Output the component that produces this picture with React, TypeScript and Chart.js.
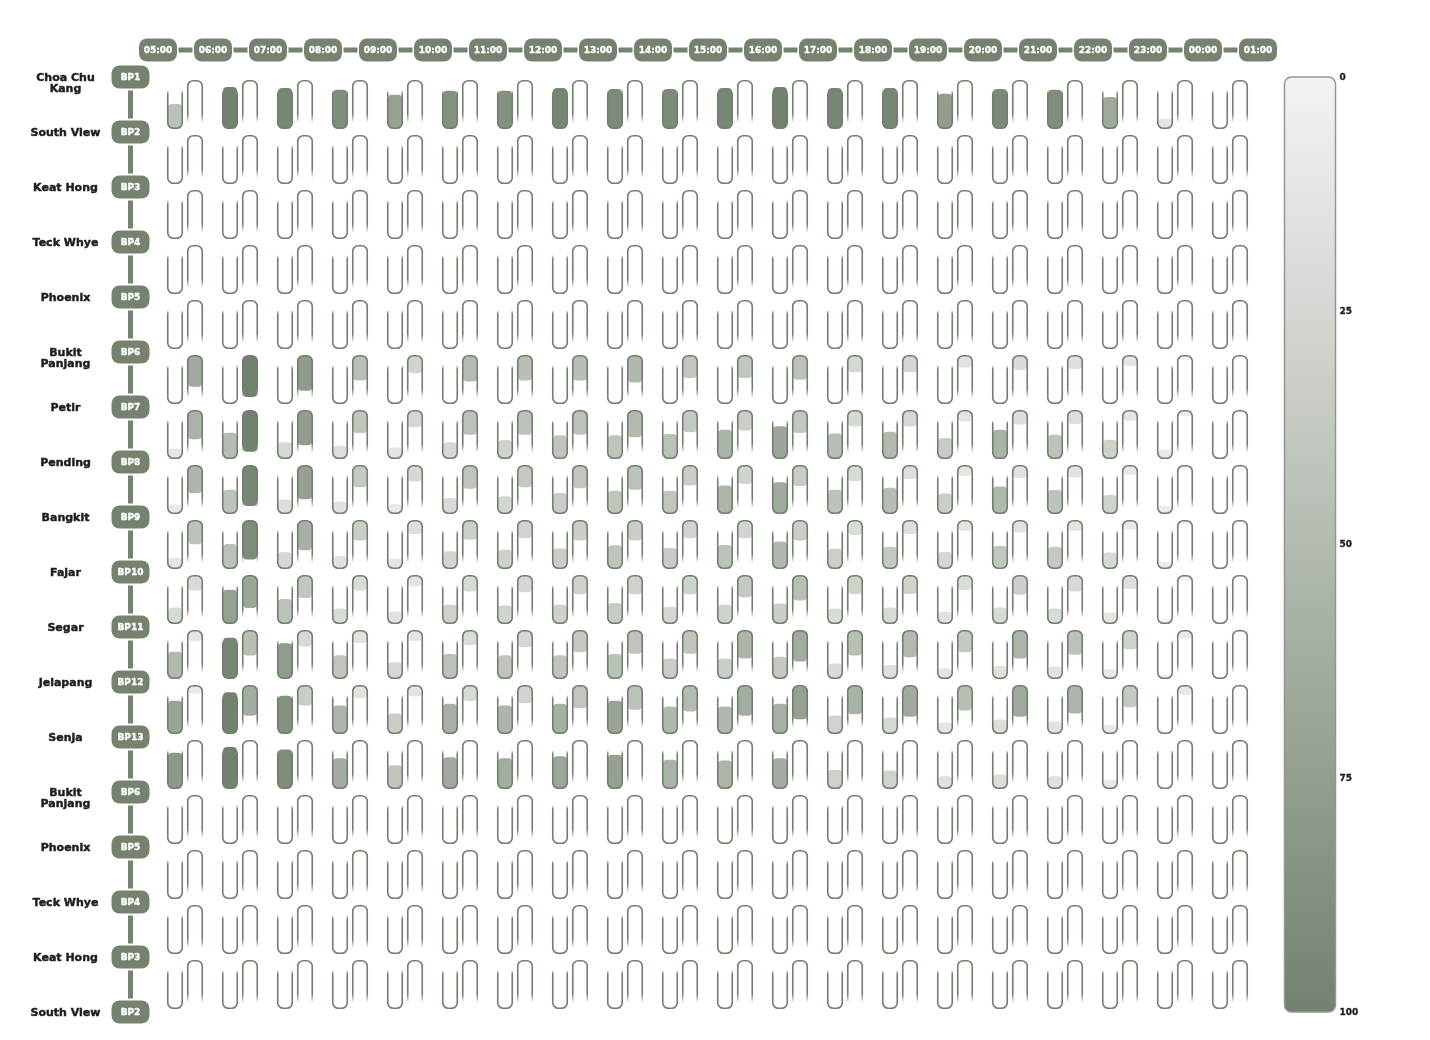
import React, { useEffect, useRef } from 'react';
import { Chart, registerables } from 'chart.js';

Chart.register(...registerables);

// ---------- categories & labels ----------
const hours = ['05:00', '06:00', '07:00', '08:00', '09:00', '10:00', '11:00', '12:00', '13:00', '14:00', '15:00', '16:00', '17:00', '18:00', '19:00', '20:00', '21:00', '22:00', '23:00', '00:00', '01:00'];
const stationNames = ['Choa Chu Kang', 'South View', 'Keat Hong', 'Teck Whye', 'Phoenix', 'Bukit Panjang', 'Petir', 'Pending', 'Bangkit', 'Fajar', 'Segar', 'Jelapang', 'Senja', 'Bukit Panjang', 'Phoenix', 'Teck Whye', 'Keat Hong', 'South View'];
const stationCodes = ['BP1', 'BP2', 'BP3', 'BP4', 'BP5', 'BP6', 'BP7', 'BP8', 'BP9', 'BP10', 'BP11', 'BP12', 'BP13', 'BP6', 'BP5', 'BP4', 'BP3', 'BP2'];
const colorTicks = [0, 25, 50, 75, 100];

// ---------- values (0-100): one entry per hour interval, one row per segment ----------
const empty = [0, 0, 0, 0, 0, 0, 0, 0, 0, 0, 0, 0, 0, 0, 0, 0, 0, 0, 0, 0];

// left tubes (filled from the bottom)
const aChoaChuKang = [45, 100, 96, 90, 73, 87, 87, 96, 93, 93, 96, 100, 96, 96, 76, 93, 90, 66, 11, 0];
const aPetir = [11, 48, 24, 17, 13, 24, 29, 41, 41, 45, 57, 68, 46, 51, 34, 57, 43, 30, 9, 0];
const aPending = [9, 43, 19, 15, 10, 22, 26, 34, 40, 40, 55, 65, 43, 48, 33, 52, 42, 29, 7, 0];
const aBangkit = [12, 45, 24, 16, 11, 26, 30, 33, 41, 34, 42, 52, 32, 37, 25, 39, 37, 23, 6, 0];
const aFajar = [23, 73, 45, 21, 15, 30, 28, 30, 34, 25, 30, 33, 21, 23, 15, 23, 21, 13, 3, 0];
const aSegar = [51, 97, 78, 41, 24, 45, 41, 41, 45, 33, 33, 37, 21, 18, 12, 16, 15, 10, 2, 0];
const aJelapang = [70, 99, 87, 55, 33, 60, 55, 60, 70, 52, 52, 60, 28, 23, 13, 19, 15, 9, 0, 0];
const aSenja = [80, 100, 91, 62, 41, 65, 62, 68, 73, 57, 55, 62, 30, 28, 16, 19, 16, 9, 0, 0];

// right tubes (filled from the top)
const bBukitPanjang = [65, 100, 78, 46, 27, 49, 46, 46, 52, 39, 39, 44, 25, 25, 15, 20, 18, 12, 3, 0];
const bPetir = [57, 99, 76, 40, 25, 44, 44, 44, 51, 37, 33, 39, 23, 23, 13, 19, 18, 12, 5, 0];
const bPending = [54, 96, 73, 37, 23, 41, 37, 40, 44, 33, 29, 34, 22, 18, 12, 16, 15, 10, 2, 0];
const bBangkit = [43, 91, 60, 33, 18, 31, 27, 33, 33, 27, 27, 33, 20, 18, 12, 15, 12, 10, 2, 0];
const bFajar = [21, 69, 39, 21, 13, 23, 25, 30, 30, 30, 37, 46, 29, 29, 20, 31, 23, 18, 3, 0];
const bSegar = [12, 46, 23, 16, 12, 20, 25, 37, 41, 41, 55, 64, 46, 51, 37, 55, 44, 30, 8, 0];
const bJelapang = [8, 62, 33, 16, 13, 22, 27, 40, 44, 49, 62, 73, 57, 65, 46, 65, 55, 37, 10, 0];

const dirARows = [aChoaChuKang, empty, empty, empty, empty, empty, aPetir, aPending, aBangkit, aFajar, aSegar, aJelapang, aSenja, empty, empty, empty, empty];
const dirBRows = [empty, empty, empty, empty, empty, bBukitPanjang, bPetir, bPending, bBangkit, bFajar, bSegar, bJelapang, empty, empty, empty, empty, empty];

// ---------- style ----------
const LIGHT = [243, 244, 242];
const DARK = [115, 130, 112];
const PILL = '#75826f';
const LINE = [112, 126, 109];
const FONT = '"DejaVu Sans", Verdana, sans-serif';

function shade(v: number): string {
  const t = Math.max(0, Math.min(1, v / 100));
  const c = LIGHT.map((l, k) => Math.round(l + (DARK[k] - l) * t));
  return `rgb(${c[0]},${c[1]},${c[2]})`;
}

// geometry expressed in cell units (one row / one column = 1)
const CELL = 55;
const TUBE_LEN = 41 / CELL;
const A_X = 17 / CELL;
const B_X = 37 / CELL;
const A_BASE = 51 / CELL;
const B_BASE = 4 / CELL;
const heightFrac = (v: number) => Math.pow(v / 100, 2 / 3);

function buildA() {
  const out: any[] = [];
  dirARows.forEach((row, i) => row.forEach((v, j) => {
    if (v > 0) out.push({ x: j + A_X, y: [i + A_BASE - heightFrac(v) * TUBE_LEN, i + A_BASE], v });
  }));
  return out;
}
function buildB() {
  const out: any[] = [];
  dirBRows.forEach((row, i) => row.forEach((v, j) => {
    if (v > 0) out.push({ x: j + B_X, y: [i + B_BASE, i + B_BASE + heightFrac(v) * TUBE_LEN], v });
  }));
  return out;
}

function rr(ctx: CanvasRenderingContext2D, x: number, y: number, w: number, h: number, r: number) {
  ctx.beginPath();
  ctx.moveTo(x + r, y);
  ctx.lineTo(x + w - r, y);
  ctx.arcTo(x + w, y, x + w, y + r, r);
  ctx.lineTo(x + w, y + h - r);
  ctx.arcTo(x + w, y + h, x + w - r, y + h, r);
  ctx.lineTo(x + r, y + h);
  ctx.arcTo(x, y + h, x, y + h - r, r);
  ctx.lineTo(x, y + r);
  ctx.arcTo(x, y, x + r, y, r);
  ctx.closePath();
}

function wrap(ctx: CanvasRenderingContext2D, text: string, maxW: number): string[] {
  const words = text.split(' ');
  const lines: string[] = [];
  let cur = '';
  words.forEach((w) => {
    const test = cur ? cur + ' ' + w : w;
    if (ctx.measureText(test).width > maxW && cur) {
      lines.push(cur);
      cur = w;
    } else cur = test;
  });
  if (cur) lines.push(cur);
  return lines;
}

function heavyText(ctx: CanvasRenderingContext2D, s: string, x: number, y: number, color: string, w: number) {
  ctx.fillStyle = color;
  ctx.strokeStyle = color;
  ctx.lineWidth = w;
  ctx.lineJoin = 'round';
  ctx.strokeText(s, x, y);
  ctx.fillText(s, x, y);
}

const decorPlugin = {
  id: 'decor',
  beforeDatasetsDraw(chart: any) {
    const ctx: CanvasRenderingContext2D = chart.ctx;
    const xs = chart.scales.x;
    const ys = chart.scales.y;
    const area = chart.chartArea;
    ctx.save();

    // header: hour pills and connectors
    const hy = ys.getPixelForValue(-0.5) + 0.5;
    const pw = 38, ph = 23;
    ctx.fillStyle = PILL;
    hours.forEach((h, j) => {
      const cx = xs.getPixelForValue(j);
      if (j < hours.length - 1) {
        const nx = xs.getPixelForValue(j + 1);
        ctx.fillRect(cx + pw / 2 + 1.5, hy - 2.5, nx - cx - pw - 3, 5);
      }
      rr(ctx, cx - pw / 2, hy - ph / 2, pw, ph, 8);
      ctx.fill();
    });
    ctx.font = `bold 9px ${FONT}`;
    ctx.textAlign = 'center';
    ctx.textBaseline = 'middle';
    hours.forEach((h, j) => {
      heavyText(ctx, h, xs.getPixelForValue(j), hy + 0.5, '#ffffff', 0.35);
    });

    // station pills, connectors and names
    const px = xs.getPixelForValue(-0.5);
    ctx.fillStyle = PILL;
    stationCodes.forEach((c, i) => {
      const cy = ys.getPixelForValue(i);
      if (i < stationCodes.length - 1) {
        const ny = ys.getPixelForValue(i + 1);
        ctx.fillRect(px - 2.5, cy + ph / 2 + 2, 5, ny - cy - ph - 4);
      }
      rr(ctx, px - pw / 2, cy - ph / 2, pw, ph, 8);
      ctx.fill();
    });
    ctx.font = `bold 9px ${FONT}`;
    stationCodes.forEach((c, i) => {
      heavyText(ctx, c, px, ys.getPixelForValue(i) + 0.5, '#ffffff', 0.35);
    });

    ctx.font = `bold 11px ${FONT}`;
    stationNames.forEach((n, i) => {
      const cy = ys.getPixelForValue(i);
      const lines = wrap(ctx, n, 76);
      lines.forEach((ln, k) => heavyText(ctx, ln, px - 65, cy + 1 + k * 11.5, '#1e1e1e', 0.45));
    });

    // colour bar
    const top = ys.getPixelForValue(0);
    const bot = ys.getPixelForValue(stationCodes.length - 1);
    const bx = area.right - 1;
    const bw = 51;
    const g = ctx.createLinearGradient(0, top, 0, bot);
    g.addColorStop(0, shade(0));
    g.addColorStop(1, shade(100));
    rr(ctx, bx, top, bw, bot - top, 7);
    ctx.fillStyle = g;
    ctx.fill();
    ctx.lineWidth = 1.5;
    ctx.strokeStyle = '#8e998b';
    ctx.stroke();
    ctx.font = `bold 9px ${FONT}`;
    ctx.textAlign = 'left';
    colorTicks.forEach((t) => {
      heavyText(ctx, String(t), bx + bw + 4, top + (bot - top) * (t / 100) + 0.5, '#1e1e1e', 0.3);
    });
    ctx.restore();
  },
  afterDatasetsDraw(chart: any) {
    const ctx: CanvasRenderingContext2D = chart.ctx;
    const xs = chart.scales.x;
    const ys = chart.scales.y;
    const solid = `rgb(${LINE.join(',')})`;
    const clear = `rgba(${LINE.join(',')},0)`;
    const r = 5.5;
    const half = 7.25;
    ctx.save();
    ctx.lineWidth = 1.6;
    for (let i = 0; i < stationCodes.length - 1; i++) {
      const cy = ys.getPixelForValue(i);
      for (let j = 0; j < hours.length - 1; j++) {
        // left tube, open at the top
        const xa = xs.getPixelForValue(j + A_X);
        let x0 = xa - half, x1 = xa + half;
        let t = cy + 13, b = cy + 51.25;
        let g = ctx.createLinearGradient(0, t, 0, t + 4);
        g.addColorStop(0, clear);
        g.addColorStop(1, solid);
        ctx.strokeStyle = g;
        ctx.beginPath();
        ctx.moveTo(x0, t);
        ctx.lineTo(x0, b - r);
        ctx.arcTo(x0, b, x0 + r, b, r);
        ctx.lineTo(x1 - r, b);
        ctx.arcTo(x1, b, x1, b - r, r);
        ctx.lineTo(x1, t);
        ctx.stroke();

        // right tube, open at the bottom
        const xb = xs.getPixelForValue(j + B_X);
        x0 = xb - half; x1 = xb + half;
        t = cy + 3.75; b = cy + 46;
        g = ctx.createLinearGradient(0, b - 9, 0, b);
        g.addColorStop(0, solid);
        g.addColorStop(1, clear);
        ctx.strokeStyle = g;
        ctx.beginPath();
        ctx.moveTo(x0, b);
        ctx.lineTo(x0, t + r);
        ctx.arcTo(x0, t, x0 + r, t, r);
        ctx.lineTo(x1 - r, t);
        ctx.arcTo(x1, t, x1, t + r, r);
        ctx.lineTo(x1, b);
        ctx.stroke();
      }
    }
    ctx.restore();
  },
};

export default function App() {
  const ref = useRef<HTMLCanvasElement | null>(null);
  useEffect(() => {
    document.body.style.margin = '0';
    const canvas = ref.current;
    if (!canvas) return;
    const fillColor = (c: any) => shade(c.raw && typeof c.raw.v === 'number' ? c.raw.v : 0);
    const common = {
      backgroundColor: fillColor,
      borderWidth: 0,
      borderRadius: 4,
      borderSkipped: false,
      barThickness: 14,
      grouped: false,
      inflateAmount: 0,
    };
    const chart = new Chart(canvas, {
      type: 'bar',
      data: {
        datasets: [
          { label: 'Direction A', data: buildA(), ...common } as any,
          { label: 'Direction B', data: buildB(), ...common } as any,
        ],
      },
      options: {
        responsive: false,
        animation: false,
        layout: { padding: { left: 130.5, right: 144.5, top: 49.5, bottom: 0.5 } },
        plugins: {
          legend: { display: false },
          tooltip: { enabled: false },
          title: { display: false },
        },
        scales: {
          x: { type: 'linear', min: -0.5, max: hours.length - 0.5, display: false, offset: false },
          y: { type: 'linear', min: -0.5, max: stationCodes.length - 0.5, reverse: true, display: false },
        },
      } as any,
      plugins: [decorPlugin],
    });
    return () => chart.destroy();
  }, []);
  return (
    <div style={{ width: 1430, height: 1040 }}>
      <canvas ref={ref} width={1430} height={1040} style={{ display: 'block' }} />
    </div>
  );
}
